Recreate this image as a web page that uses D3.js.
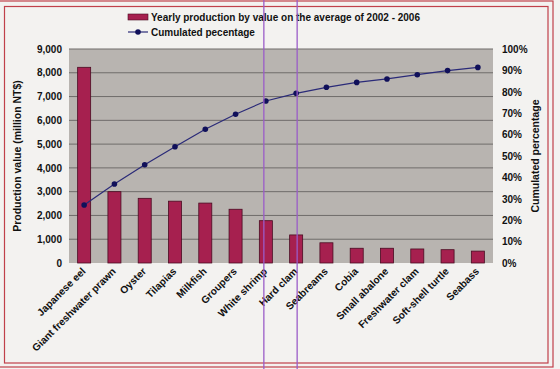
<!DOCTYPE html>
<html>
<head>
<meta charset="utf-8">
<script src="https://cdn.jsdelivr.net/npm/d3@7"></script>
<style>
  body { margin: 0; background: #f3f2f0; }
  svg { display: block; font-family: Arial, "Liberation Sans", sans-serif; font-weight: bold; }
</style>
</head>
<body>
<div id="main"></div>
<script>

// categories and values
var species = ["Japanese eel", "Giant freshwater prawn", "Oyster", "Tilapias", "Milkfish",
  "Groupers", "White shrimp", "Hard clam", "Seabreams", "Cobia", "Small abalone",
  "Freshwater clam", "Soft-shell turtle", "Seabass"];
var value = [8230, 3000, 2720, 2600, 2520, 2260, 1780, 1180, 850, 620, 620, 590, 560, 500];
var cumPct = [27.1, 36.9, 45.9, 54.3, 62.5, 69.5, 75.7, 79.3, 82.1, 84.4, 86.0, 88.0, 89.9, 91.4];
var leftTicks = [0, 1000, 2000, 3000, 4000, 5000, 6000, 7000, 8000, 9000];
var rightTicks = [0, 10, 20, 30, 40, 50, 60, 70, 80, 90, 100];

var w = 560;
var h = 369;
var plot = { left: 69, right: 493, top: 49, bottom: 263 };

var svg = d3.select("#main").append("svg")
    .attr("width", w)
    .attr("height", h);

// double red frame
svg.append("rect").attr("x", -1).attr("y", 1).attr("width", 554).attr("height", 366)
    .attr("fill", "none").attr("stroke", "#c0404a").attr("stroke-width", 1.2);
svg.append("rect").attr("x", 4.5).attr("y", 6.5).attr("width", 543.5).attr("height", 356.5)
    .attr("fill", "none").attr("stroke", "#c0404a").attr("stroke-width", 1.2);

var x = d3.scaleBand()
    .domain(species)
    .range([plot.left, plot.right])
    .paddingInner(0.57)
    .paddingOuter(0.285);

var y = d3.scaleLinear().domain([0, 9000]).range([plot.bottom, plot.top]);
var y2 = d3.scaleLinear().domain([0, 100]).range([plot.bottom, plot.top]);

// plot background
svg.append("rect")
    .attr("x", plot.left).attr("y", plot.top)
    .attr("width", plot.right - plot.left).attr("height", plot.bottom - plot.top)
    .attr("fill", "#b8b4b0");

// gridlines
svg.append("g").selectAll("line")
    .data(leftTicks.slice(1))
    .enter().append("line")
    .attr("x1", plot.left).attr("x2", plot.right)
    .attr("y1", function(d) { return y(d); })
    .attr("y2", function(d) { return y(d); })
    .attr("stroke", "#6f6c6a").attr("stroke-width", 1);

// left axis
var yAxis = d3.axisLeft(y).tickValues(leftTicks).tickFormat(d3.format(",")).tickSize(0).tickPadding(7);
var gl = svg.append("g").attr("transform", "translate(" + plot.left + ",0)").call(yAxis);
gl.select(".domain").remove();
gl.selectAll("text").attr("font-size", 10).attr("font-family", "Arial, 'Liberation Sans', sans-serif").attr("fill", "#111");

// right axis
var y2Axis = d3.axisRight(y2).tickValues(rightTicks).tickFormat(function(d) { return d + "%"; }).tickSize(0).tickPadding(9);
var gr = svg.append("g").attr("transform", "translate(" + plot.right + ",0)").call(y2Axis);
gr.select(".domain").remove();
gr.selectAll("text").attr("font-size", 10).attr("font-family", "Arial, 'Liberation Sans', sans-serif").attr("fill", "#111");

// bars
svg.append("g").selectAll("rect")
    .data(species)
    .enter().append("rect")
    .attr("x", function(d) { return x(d); })
    .attr("y", function(d, i) { return y(value[i]); })
    .attr("width", x.bandwidth())
    .attr("height", function(d, i) { return y(0) - y(value[i]); })
    .attr("fill", "#a6204f")
    .attr("stroke", "#4a0c22")
    .attr("stroke-width", 0.8);

// cumulated line
var line = d3.line()
    .x(function(d, i) { return x(species[i]) + x.bandwidth() / 2; })
    .y(function(d) { return y2(d); });

svg.append("path")
    .datum(cumPct)
    .attr("d", line)
    .attr("fill", "none")
    .attr("stroke", "#2a2a78")
    .attr("stroke-width", 1.2);

svg.append("g").selectAll("circle")
    .data(cumPct)
    .enter().append("circle")
    .attr("cx", function(d, i) { return x(species[i]) + x.bandwidth() / 2; })
    .attr("cy", function(d) { return y2(d); })
    .attr("r", 2.8)
    .attr("fill", "#10105a");

// category labels, rotated
svg.append("g").selectAll("text")
    .data(species)
    .enter().append("text")
    .attr("transform", function(d) {
      return "translate(" + (x(d) + x.bandwidth() / 2 + 2) + "," + (plot.bottom + 9) + ") rotate(-45)";
    })
    .attr("text-anchor", "end")
    .attr("font-size", 10.2)
    .attr("fill", "#111")
    .text(function(d) { return d; });

// axis titles
svg.append("text")
    .attr("transform", "translate(21," + ((plot.top + plot.bottom) / 2) + ") rotate(-90)")
    .attr("text-anchor", "middle")
    .attr("font-size", 10.5)
    .attr("fill", "#111")
    .text("Production value (million NT$)");

svg.append("text")
    .attr("transform", "translate(539," + ((plot.top + plot.bottom) / 2) + ") rotate(-90)")
    .attr("text-anchor", "middle")
    .attr("font-size", 10.5)
    .attr("fill", "#111")
    .text("Cumulated percentage");

// legend
var leg = svg.append("g");
leg.append("rect").attr("x", 128).attr("y", 14).attr("width", 20).attr("height", 6)
    .attr("fill", "#a6204f").attr("stroke", "#4a0c22").attr("stroke-width", 0.6);
leg.append("text").attr("x", 151).attr("y", 21).attr("font-size", 10).attr("fill", "#111")
    .text("Yearly production by value on the average of 2002 - 2006");
leg.append("line").attr("x1", 128).attr("x2", 148).attr("y1", 32).attr("y2", 32)
    .attr("stroke", "#2a2a78").attr("stroke-width", 1.2);
leg.append("circle").attr("cx", 138).attr("cy", 32).attr("r", 2.8).attr("fill", "#10105a");
leg.append("text").attr("x", 151).attr("y", 36).attr("font-size", 10).attr("fill", "#111")
    .text("Cumulated pecentage");

// two purple marker lines across the picture
svg.append("g").selectAll("line")
    .data(["White shrimp", "Hard clam"])
    .enter().append("line")
    .attr("x1", function(d, i) { return x(d) + x.bandwidth() / 2 + (i ? 1 : -2); })
    .attr("x2", function(d, i) { return x(d) + x.bandwidth() / 2 + (i ? 1 : -2); })
    .attr("y1", 0).attr("y2", h)
    .attr("stroke", "#9a5cc8").attr("stroke-width", 1.3);

</script>
</body>
</html>
